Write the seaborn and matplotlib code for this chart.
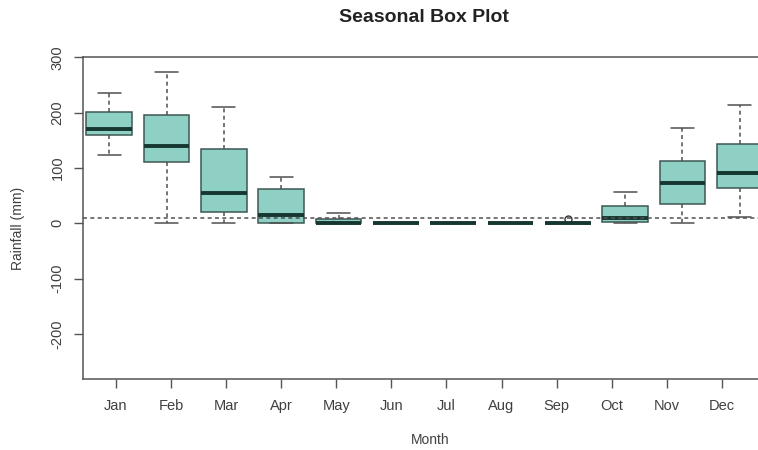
import matplotlib
matplotlib.use("Agg")
import matplotlib.pyplot as plt
import seaborn as sns
import numpy as np
import pandas as pd

# Monthly rainfall summary (mm): lower whisker, quartiles, median, upper whisker
months = ["Jan", "Feb", "Mar", "Apr", "May", "Jun",
          "Jul", "Aug", "Sep", "Oct", "Nov", "Dec"]
rain_min = [123, 0, 0, 0, 0, 0, 0, 0, 0, 0, 0, 11]
rain_q1 = [160, 110, 20, 1, 0, 0, 0, 0, 0, 2, 35, 63]
rain_median = [171, 140, 54, 15, 1, 0, 0, 0, 0, 9, 72, 90]
rain_q3 = [201, 195, 135, 62, 8, 0, 0, 0, 0, 32, 113, 143]
rain_max = [235, 273, 211, 84, 18, 0, 0, 0, 0, 57, 173, 214]

# Isolated wet days shown as outliers
outlier_months = ["Sep"]
outlier_values = [8]

# Threshold line (mm)
threshold = 10

y_ticks = [-200, -100, 0, 100, 200, 300]

records = []
for i, m in enumerate(months):
    for v in (rain_min[i], rain_q1[i], rain_median[i], rain_q3[i], rain_max[i]):
        records.append((m, v))
for m, v in zip(outlier_months, outlier_values):
    records.append((m, v))
df = pd.DataFrame(records, columns=["Month", "Rainfall"])

sns.set_theme(style="white")
plt.rcParams["font.family"] = ["Liberation Sans", "DejaVu Sans"]
plt.rcParams["axes.unicode_minus"] = False

W, H = 758, 450
fig = plt.figure(figsize=(W / 100, H / 100), dpi=100)
left_px, right_px, top_px, bottom_px = 83.3, 765, 57.3, 379.3
ax = fig.add_axes([left_px / W, 1 - bottom_px / H,
                   (right_px - left_px) / W, (bottom_px - top_px) / H])

fill = "#8fd0c4"
edge = "#3d5753"
line_grey = "#505050"
dash = (0, (2.6, 2.2))

sns.boxplot(
    data=df, x="Month", y="Rainfall", order=months, ax=ax,
    color=fill, saturation=1, width=0.8, linecolor=edge, linewidth=1.1,
    whiskerprops=dict(color=line_grey, linestyle=dash, linewidth=1.1),
    capprops=dict(color=line_grey, linewidth=1.1),
    medianprops=dict(color="#163630", linewidth=2.8),
    flierprops=dict(marker="o", markerfacecolor="none",
                    markeredgecolor="#333333", markersize=5, markeredgewidth=1),
)

ax.axhline(threshold, color=line_grey, linestyle=dash, linewidth=1.1, zorder=5)

# Month axis: labels sit on a slightly narrower grid than the boxes
ax.set_xlim(-0.452, 11.44)
tick_pos = 0.1186 + 0.9608 * np.arange(len(months))
ax.set_xticks(tick_pos)
ax.set_xticklabels(months)

ax.set_ylim(-282, 300)
ax.set_yticks(y_ticks)
ax.set_yticklabels([str(t) for t in y_ticks])
plt.setp(ax.get_yticklabels(), rotation=90, va="center")

for side in ("left", "bottom", "top", "right"):
    ax.spines[side].set_visible(True)
    ax.spines[side].set_color("#555555")
    ax.spines[side].set_linewidth(1.1)

ax.tick_params(axis="both", which="both", direction="out", length=6.5, width=1,
               color="#555555", labelcolor="#404040", labelsize=10.5,
               left=True, bottom=True)
ax.tick_params(axis="x", pad=7.5)
ax.tick_params(axis="y", pad=7)

ax.set_xlabel("")
ax.set_ylabel("")
fig.text(430 / W, 1 - 440 / H, "Month", ha="center", va="center",
         fontsize=10, color="#404040")
fig.text(18 / W, 1 - 228 / H, "Rainfall (mm)", ha="center", va="center",
         rotation=90, fontsize=10, color="#404040")
fig.text(424 / W, 1 - 18 / H, "Seasonal Box Plot", ha="center", va="center",
         fontsize=14, fontweight="bold", color="#222222")

fig.savefig("out.png", dpi=100)
